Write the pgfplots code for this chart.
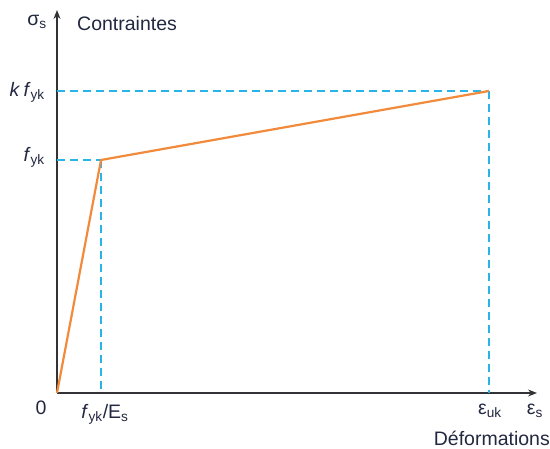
\documentclass[border=0pt]{standalone}
\usepackage{pgfplots}
\pgfplotsset{compat=1.18}
\usepackage{fontspec}
\setmainfont{Liberation Sans}
\usetikzlibrary{arrows.meta}
\definecolor{txt}{RGB}{35,40,65}
\definecolor{orng}{RGB}{242,138,60}
\definecolor{cyn}{RGB}{40,180,230}
\definecolor{axc}{RGB}{50,50,55}
\tikzset{lbl/.style={text=txt, font=\fontsize{19.5}{22}\selectfont, inner sep=0pt}}
\begin{document}
\begin{tikzpicture}[x=1pt,y=1pt]
\useasboundingbox (-57pt,-56pt) rectangle (493pt,393pt);
\begin{axis}[
  scale only axis, width=480pt, height=383pt,
  xmin=0, xmax=480, ymin=0, ymax=383,
  axis x line=bottom, axis y line=left,
  axis line style={axc, line width=1.3pt, -{Stealth[length=9pt,width=7pt]}},
  xtick=\empty, ytick=\empty,
  clip=false,
]
\addplot[cyn, line width=1.3pt, dash pattern=on 8pt off 5pt] coordinates {(0,233) (44,233)};
\addplot[cyn, line width=1.3pt, dash pattern=on 8pt off 5pt] coordinates {(44,233) (44,0)};
\addplot[cyn, line width=1.3pt, dash pattern=on 8pt off 5pt] coordinates {(0,302) (432,302)};
\addplot[cyn, line width=1.3pt, dash pattern=on 8pt off 5pt] coordinates {(432,302) (432,0)};
\addplot[orng, line width=2.2pt, line join=round] coordinates {(0,0) (44,233) (432,302)};
\node[lbl] at (axis cs:-20,371) {σ\textsubscript{s}};
\node[lbl, anchor=west] at (axis cs:20,369) {Contraintes};
\node[lbl, anchor=east] at (axis cs:-12,301) {\textit{k}\,\textit{f}\textsubscript{yk}};
\node[lbl, anchor=east] at (axis cs:-12,236) {\textit{f}\textsubscript{yk}};
\node[lbl] at (axis cs:-16,-15) {0};
\node[lbl] at (axis cs:48,-21) {\textit{f}\textsubscript{yk}/E\textsubscript{s}};
\node[lbl] at (axis cs:433,-18) {ε\textsubscript{uk}};
\node[lbl] at (axis cs:478,-18) {ε\textsubscript{s}};
\node[lbl, anchor=east] at (axis cs:493,-45) {Déformations};
\end{axis}
\end{tikzpicture}
\end{document}
